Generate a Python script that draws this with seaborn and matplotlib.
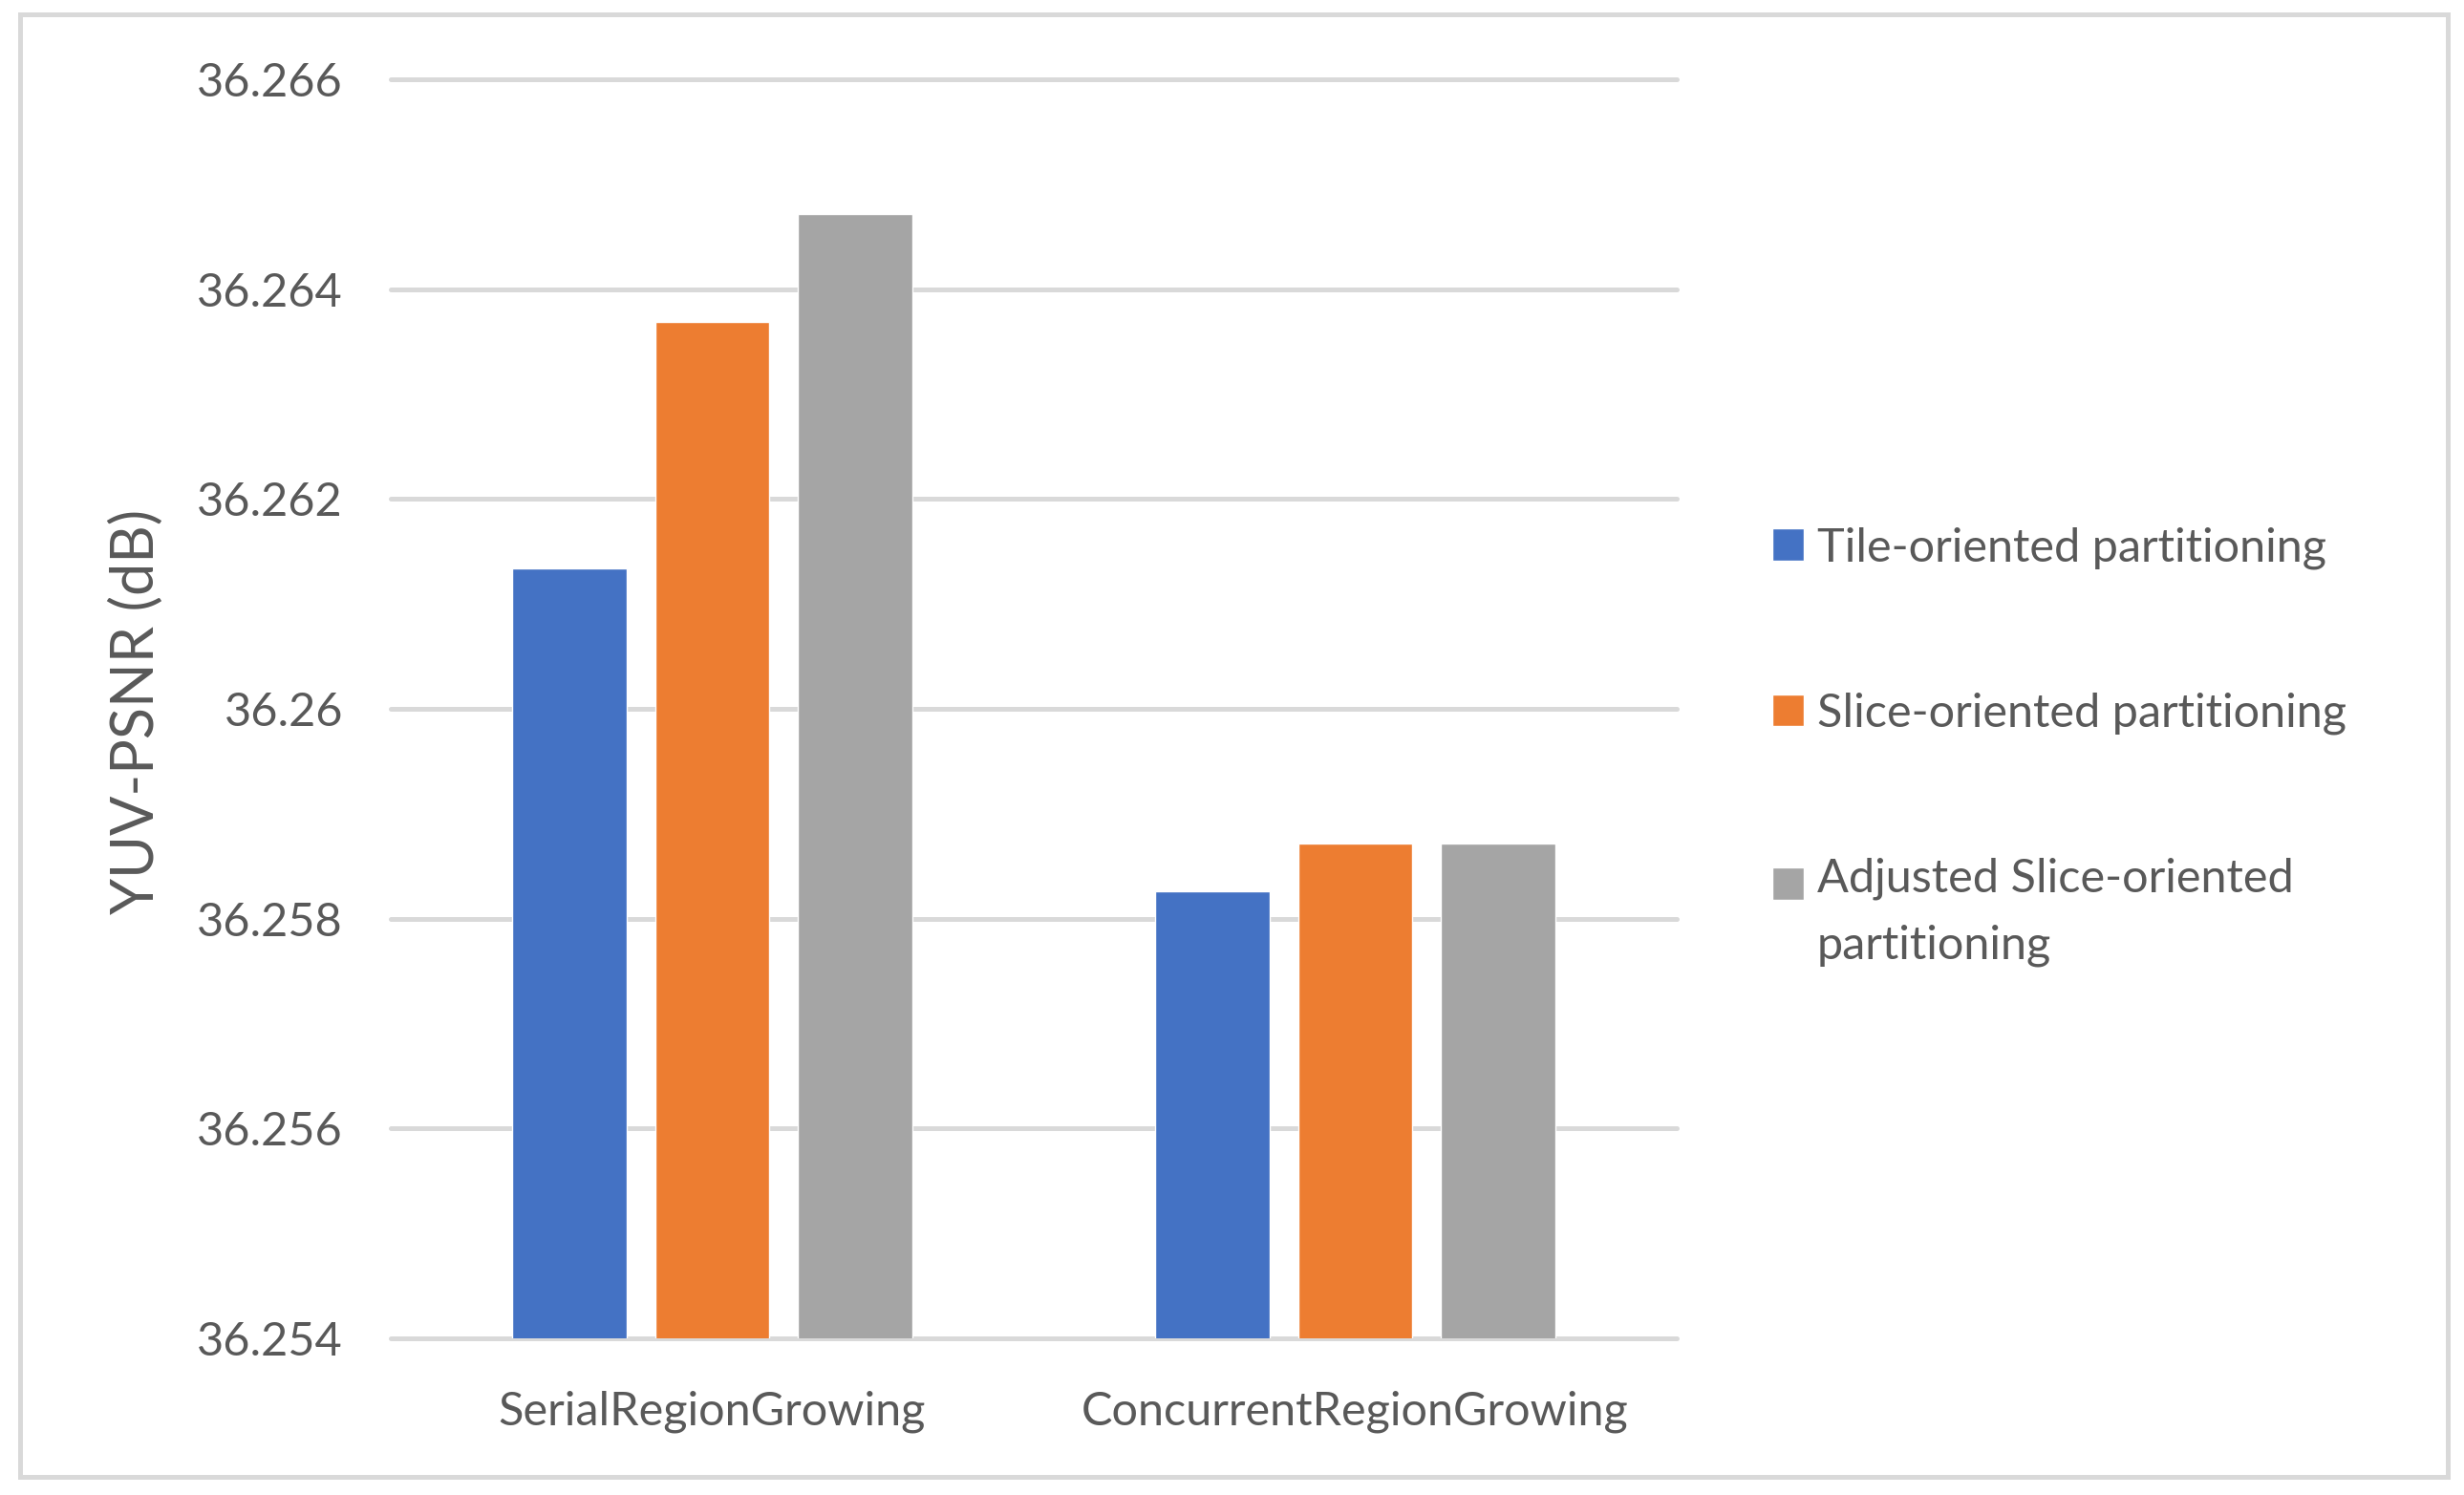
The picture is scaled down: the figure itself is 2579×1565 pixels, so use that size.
import matplotlib
matplotlib.use("Agg")
import matplotlib.pyplot as plt
import matplotlib.patches as mpatches
from matplotlib.ticker import FuncFormatter, MultipleLocator
import pandas as pd
import seaborn as sns

# ---- data ----
categories = ["SerialRegionGrowing", "ConcurrentRegionGrowing"]
series_names = ["Tile-oriented partitioning",
                "Slice-oriented partitioning",
                "Adjusted Slice-oriented\npartitioning"]
tile_values = [36.26134, 36.25826]
slice_values = [36.26369, 36.25872]
adjusted_values = [36.26472, 36.25872]
colors = ["#4472C4", "#ED7D31", "#A5A5A5"]
y_min, y_max, y_step = 36.254, 36.266, 0.002
y_label = "YUV-PSNR (dB)"

rows = []
for name, vals in zip(series_names, [tile_values, slice_values, adjusted_values]):
    for cat, v in zip(categories, vals):
        rows.append({"category": cat, "series": name, "value": v})
df = pd.DataFrame(rows)

sns.set_theme(style="white")
plt.rcParams["font.family"] = ["Lato", "DejaVu Sans"]

W, H, DPI = 2579, 1565, 100
fig = plt.figure(figsize=(W / DPI, H / DPI), dpi=DPI)
ax = fig.add_axes([409 / W, 1 - 1401 / H, (1755 - 409) / W, (1401 - 83) / H])

sns.barplot(data=df, x="category", y="value", hue="series",
            order=categories, hue_order=series_names, palette=colors,
            width=0.6686, gap=0.2, saturation=1, errorbar=None,
            ax=ax, legend=True)

ax.set_ylim(y_min, y_max)
ax.set_xlim(-0.5, 1.5)
ax.yaxis.set_major_locator(MultipleLocator(y_step))
ax.yaxis.set_major_formatter(FuncFormatter(lambda v, p: f"{v:g}"))
ax.set_axisbelow(True)
ax.yaxis.grid(True, color="#D9D9D9", linewidth=3.6)
for gl in ax.get_ygridlines():
    gl.set_clip_on(False)
ax.xaxis.grid(False)
for s in ax.spines.values():
    s.set_visible(False)

text_color = "#595959"
fs = 35
ax.tick_params(axis="both", length=0, labelsize=fs, colors=text_color)
ax.tick_params(axis="y", pad=36)
ax.tick_params(axis="x", pad=39)
ax.set_xlabel("")
ax.set_ylabel("")
fig.text(143 / W, 1 - 745 / H, y_label, rotation=90, ha="center", va="center",
         fontsize=44, color=text_color)

line_sp = 1.71
leg = ax.legend(loc="upper left", bbox_to_anchor=(1855 / W, 1 - 551 / H),
                bbox_transform=fig.transFigure, frameon=False, fontsize=fs,
                handlelength=0.68, handleheight=0.68, handletextpad=0.28,
                labelspacing=2.65, borderpad=0, borderaxespad=0)
for t in leg.get_texts():
    t.set_color(text_color)
    t.set_linespacing(line_sp)

# align the square of a multi-line entry with its first line
fig.canvas.draw()
renderer = fig.canvas.get_renderer()
for handle, t in zip(leg.legend_handles, leg.get_texts()):
    n_lines = t.get_text().count("\n") + 1
    if n_lines > 1:
        _, lp_h, lp_d = renderer.get_text_width_height_descent(
            "lp", t.get_fontproperties(), ismath=False)
        dy_px = (lp_h - lp_d) * line_sp * (n_lines - 1) / 2
        handle.set_y(handle.get_y() + dy_px * 72 / DPI)

border = mpatches.Rectangle((21 / W, 1 - 1546 / H), (2562 - 21) / W, (1546 - 15) / H,
                            transform=fig.transFigure, fill=False,
                            edgecolor="#D9D9D9", linewidth=3.6)
fig.patches.append(border)

fig.savefig("out.png", dpi=DPI, facecolor="white")
